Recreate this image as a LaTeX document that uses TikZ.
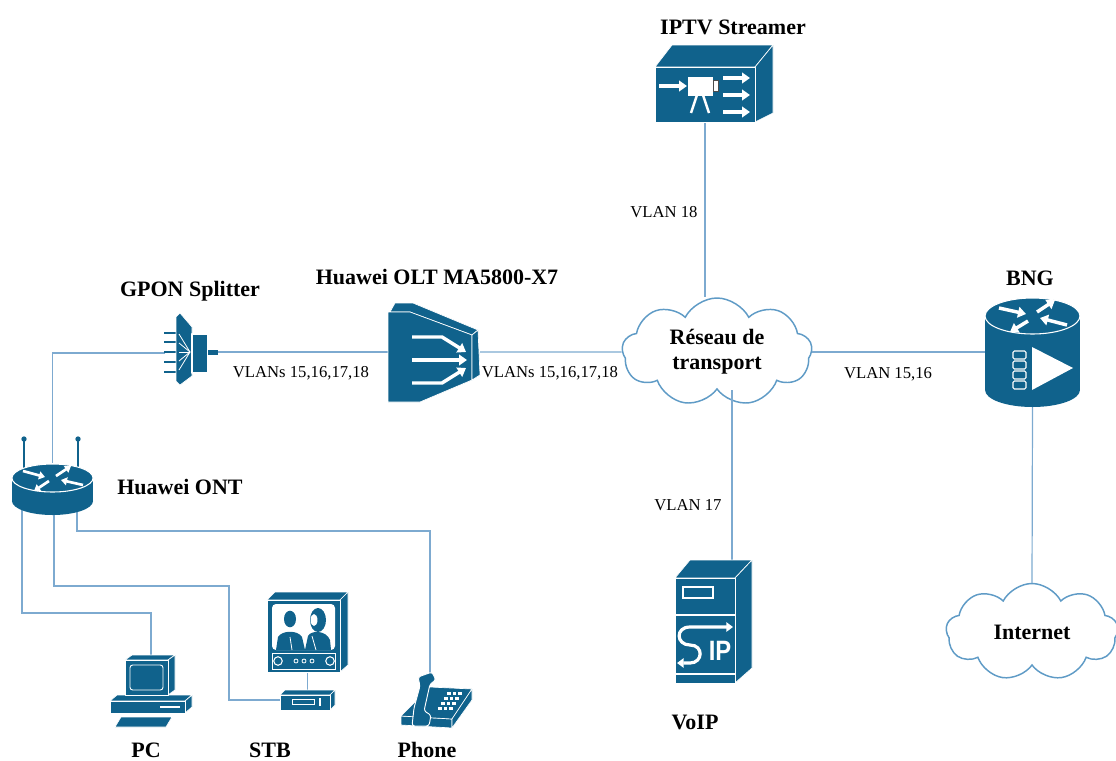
\documentclass[tikz,border=0pt]{standalone}
\usepackage{fontspec}
\setmainfont{Liberation Serif}
\setsansfont{Liberation Sans}
\usetikzlibrary{shapes.symbols,arrows.meta,calc}
\definecolor{devblue}{RGB}{16,98,140}
\definecolor{linkblue}{RGB}{125,170,208}
\definecolor{cloudline}{RGB}{95,155,198}

\begin{document}
\begin{tikzpicture}[x=0.75pt,y=-0.75pt,
  link/.style={draw=linkblue,line width=0.9pt},
  dev/.style={fill=devblue,draw=white,line width=0.5pt,line join=round},
  warrow/.style={draw=white,line width=2.6pt,-{Triangle[length=6pt,width=8pt]}},
  wsmall/.style={draw=white,line width=2pt,-{Triangle[length=4.5pt,width=6pt]}},
  hold/.style={inner sep=0pt,outer sep=0pt},
  title/.style={font=\fontsize{16.5}{18}\selectfont\bfseries},
  vlan/.style={font=\fontsize{12.5}{14}\selectfont},
  netcloud/.style={cloud,cloud puffs=9,cloud puff arc=125,draw=cloudline,line width=1.1pt,fill=white,
    inner sep=0pt,align=center,font=\fontsize{16.5}{19}\selectfont\bfseries}]

\useasboundingbox (0,0) rectangle (1116,760);

% ---------- clouds ----------
\node[netcloud,minimum width=142.5pt,minimum height=81pt,aspect=1.76] (transport) at (717,352) {Réseau de\\transport};
\node[netcloud,minimum width=129pt,minimum height=72.75pt,aspect=1.77] (internet) at (1032,632) {Internet};

% ---------- device frames (anchors for the links) ----------
\node[hold,minimum width=75pt,minimum height=41.25pt] (iptv) at (705,94.5) {};
\node[hold,minimum width=69pt,minimum height=75pt] (olt) at (434,352) {};
\node[hold,minimum width=39.75pt,minimum height=52.5pt] (splitter) at (191.5,353) {};
\node[hold,minimum width=60.75pt,minimum height=39pt] (ont) at (52.5,489) {};
\node[hold,minimum width=71.25pt,minimum height=82.5pt] (bng) at (1032.5,352) {};
\node[hold,minimum width=45pt,minimum height=78.75pt] (voip) at (705,630.5) {};
\node[hold,minimum width=61.5pt,minimum height=54pt] (pc) at (151,691) {};
\node[hold,minimum width=60.75pt,minimum height=60pt] (tv) at (307.5,632) {};
\node[hold,minimum width=41.25pt,minimum height=15pt] (stb) at (307.5,700) {};
\node[hold,minimum width=54pt,minimum height=41.25pt] (phone) at (430,700) {};

\coordinate (voiptop) at (732,560);
\coordinate (ontA) at (22,508);
\coordinate (ontB) at (54,510);
\coordinate (ontC) at (77,508);
\coordinate (stbturn) at (229,586);

% ---------- links ----------
\draw[link] (iptv.south) -- (iptv.south |- transport.north);
\draw[link] (transport.west) -- (olt.east);
\draw[link] (transport.east) -- (bng.west);
\draw[link] (voiptop |- transport.south) -- (voiptop);
\draw[link] (bng.south) -- (internet.north);
\draw[link] (olt.west) -- (olt.west -| splitter.east);
\draw[link] (splitter.west) -| (ont.north);
\draw[link] (ontA) -- ++(0,105) -| (pc.north);
\draw[link] (ontB) |- (stbturn) |- (stb.west);
\draw[link] (ontC) -- ++(0,23) -| (phone.north);
\draw[link] (tv.south) -- (stb.north);

% ---------- IPTV streamer ----------
\draw[dev] (655,67) -- (672,45) -- (773,45) -- (755,67) -- cycle;
\draw[dev] (755,67) -- (773,45) -- (773,113) -- (755,122) -- cycle;
\draw[dev] (655,67) rectangle (755,122);
\draw[warrow] (659,86) -- (687,86);
\fill[white] (688,77) rectangle (713,96);
\filldraw[fill=white,draw=black!70,line width=0.4pt] (713,80) rectangle (718,91);
\draw[white,line width=1.8pt] (697,95) -- (691,113) (703,95) -- (709,113);
\foreach \yy in {78,95,112} \draw[warrow] (723,\yy) -- (750,\yy);

% ---------- OLT ----------
\draw[dev] (390,312) -- (395,303) -- (413,303) -- (478,330) -- (472,335) -- (410,312) -- cycle;
\draw[dev] (388,312) -- (410,312) -- (472,335) -- (472,380) -- (420,402) -- (388,402) -- cycle;
\draw[dev] (472,335) -- (478,330) -- (480,375) -- (472,380) -- cycle;
\draw[warrow] (412,337) -- (442,337) -- (466,352);
\draw[warrow] (412,360) -- (467,360);
\draw[warrow] (412,383) -- (442,383) -- (466,368);

% ---------- GPON splitter ----------
\foreach \yy in {333,342,352,362,372} \draw[devblue,line width=1.6pt] (164,\yy) -- (180,\yy);
\draw[dev] (176,317) -- (180,313) -- (192,327) -- (192,376) -- (180,385) -- (176,381) -- cycle;
\foreach \yy in {334,343,352,361,370} \draw[white,line width=0.6pt] (190,352) -- (179,\yy);
\draw[dev,line width=0.8pt] (192,334) rectangle (208,373);
\fill[devblue] (208,350) rectangle (218,355);

% ---------- ONT ----------
\draw[devblue,line width=2.2pt] (24,441) -- (24,470) (78,441) -- (78,470);
\fill[devblue] (24,439) circle[radius=2pt] (78,439) circle[radius=2pt];
\fill[devblue] (12,478) rectangle (93,501);
\fill[devblue] (52.5,501) ellipse[x radius=30.4pt,y radius=10.5pt];
\draw[dev,line width=0.8pt] (52.5,478) ellipse[x radius=30.4pt,y radius=10.5pt];
\draw[wsmall] (23,471) -- (45,477);
\draw[wsmall] (83,485) -- (61,480);
\draw[wsmall] (56,476) -- (71,466);
\draw[wsmall] (49,481) -- (34,491);

% ---------- BNG ----------
\fill[devblue] (985,316) rectangle (1080,390);
\fill[devblue] (1032.5,390) ellipse[x radius=35.6pt,y radius=12.75pt];
\draw[dev,line width=0.8pt] (1032.5,316) ellipse[x radius=35.6pt,y radius=13.5pt];
\draw[warrow] (999,308) -- (1026,314);
\draw[warrow] (1067,325) -- (1040,318);
\draw[warrow] (1037,312) -- (1055,300);
\draw[warrow] (1028,321) -- (1010,332);
\foreach \yy in {351,361,371,381}
  \draw[fill=devblue,draw=white,line width=0.8pt,rounded corners=1pt] (1013,\yy) rectangle (1026,\yy+8);
\fill[white] (1032,347) -- (1073,368) -- (1032,390) -- cycle;

% ---------- VoIP server ----------
\draw[dev] (675,578) -- (690,560) -- (752,560) -- (735,578) -- cycle;
\draw[dev] (735,578) -- (752,560) -- (752,668) -- (735,683) -- cycle;
\draw[dev] (675,578) rectangle (735,683);
\draw[white,line width=0.8pt] (683,587) rectangle (713,598);
\draw[white,line width=0.8pt] (675,615) -- (735,615) (675,674) -- (735,674);
\draw[white,line width=2.4pt,{Triangle[length=5pt,width=7pt]}-{Triangle[length=5pt,width=7pt]}]
  (677,663) -- (690,663) .. controls (703,663) and (704,645) .. (690,645)
  .. controls (676,645) and (675,627) .. (690,627) -- (733,627);
\node[font=\sffamily\bfseries\fontsize{21}{21}\selectfont,text=white,inner sep=0pt,xscale=0.85] (voiplogo) at (720,651) {IP};

% ---------- PC ----------
\draw[dev] (110,701) -- (117,695) -- (192,695) -- (185,701) -- cycle;
\draw[dev] (185,701) -- (192,695) -- (192,707) -- (185,713) -- cycle;
\draw[dev] (110,701) rectangle (185,713);
\draw[white,line width=1pt] (160,707) -- (180,707);
\draw[dev] (125,660) -- (132,655) -- (175,655) -- (168,660) -- cycle;
\draw[dev] (168,660) -- (175,655) -- (175,690) -- (168,695) -- cycle;
\draw[dev] (125,660) rectangle (168,695);
\draw[white,line width=0.7pt,rounded corners=2pt] (130,665) rectangle (163,690);
\draw[dev] (115,727) -- (121,717) -- (172,717) -- (166,727) -- cycle;

% ---------- TV ----------
\draw[dev] (267,600) -- (275,592) -- (348,592) -- (340,600) -- cycle;
\draw[dev] (340,600) -- (348,592) -- (348,665) -- (340,672) -- cycle;
\draw[dev] (267,600) rectangle (340,672);
\fill[white,rounded corners=3pt] (272,604) rectangle (335,650);
\fill[devblue] (276,650) -- (278,637) .. controls (282,630) and (298,630) .. (302,637) -- (305,650) -- cycle;
\fill[devblue] (290,619) ellipse[x radius=4.5pt,y radius=6.2pt];
\fill[devblue] (305,650) -- (308,636) .. controls (311,630) and (326,630) .. (330,640) -- (331,650) -- cycle;
\fill[devblue] (318,620) ellipse[x radius=6pt,y radius=9pt];
\fill[white] (314,620) ellipse[x radius=2.6pt,y radius=4.5pt];
\draw[white,line width=0.6pt] (290,637) -- (292,650) (312,636) -- (316,650);
\draw[white,line width=0.6pt] (272,653) rectangle (335,669);
\draw[white,line width=0.8pt] (278,661) circle[radius=3.2pt] (330,661) circle[radius=3.2pt];
\foreach \xx in {296,304,312} \draw[white,line width=0.6pt] (\xx,661) circle[radius=1.5pt];

% ---------- set-top box ----------
\draw[dev] (280,695) -- (285,690) -- (335,690) -- (330,695) -- cycle;
\draw[dev] (330,695) -- (335,690) -- (335,705) -- (330,710) -- cycle;
\draw[dev] (280,695) rectangle (330,710);
\draw[white,line width=0.7pt] (292,699) rectangle (314,704);
\draw[white,line width=1pt] (320,698) -- (320,706);

% ---------- phone ----------
\draw[dev] (401,716) -- (452,719) -- (452,728) -- (401,725) -- cycle;
\draw[dev] (401,716) -- (430,687) -- (472,689) -- (452,719) -- cycle;
\draw[dev] (452,719) -- (472,689) -- (472,700) -- (452,728) -- cycle;
\foreach \i in {0,1,2} \foreach \j in {0,1,2,3}
  \fill[white] ($(447,692)+(\i*5.5,0)+(-\j*3,\j*5)$) rectangle ++(3.5,3);
\draw[dev,line width=0.7pt,rounded corners=2pt] (418,677) -- (432,672) -- (436,680) -- (430,684)
  -- (424,711) -- (431,715) -- (429,726) -- (412,726) -- (414,708) -- (420,686) -- cycle;

% ---------- labels ----------
\node[title] (lbliptv) at (733,27) {IPTV Streamer};
\node[title] (lblolt) at (437,277) {Huawei OLT MA5800-X7};
\node[title] (lblsplit) at (190,291) {GPON Splitter};
\node[title] (lblbng) at (1030,278) {BNG};
\node[title] (lblont) at (180,487) {Huawei ONT};
\node[title] (lblvoip) at (695,722) {VoIP};
\node[title,anchor=base] (lblpc) at (146,757) {PC};
\node[title,anchor=base] (lblstb) at (270,757) {STB};
\node[title,anchor=base] (lblphone) at (427,757) {Phone};
\node[vlan] (v18) at (664,212) {VLAN 18};
\node[vlan] (v17) at (688,505) {VLAN 17};
\node[vlan] (v1516) at (888,374) {VLAN 15,16};
\node[vlan] (vleft) at (301,373) {VLANs 15,16,17,18};
\node[vlan] (vright) at (550,373) {VLANs 15,16,17,18};
\end{tikzpicture}
\end{document}
